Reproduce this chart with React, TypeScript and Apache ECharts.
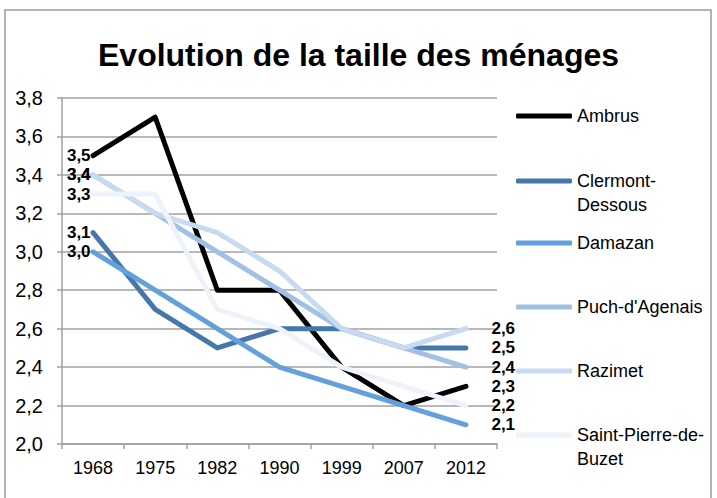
import React, { useEffect, useRef } from 'react';
import * as echarts from 'echarts';

const years = ['1968', '1975', '1982', '1990', '1999', '2007', '2012'];
const seriesNames = ['Ambrus', 'Clermont-Dessous', 'Damazan', "Puch-d'Agenais", 'Razimet', 'Saint-Pierre-de-Buzet'];
const legendLabels = ['Ambrus', '\nClermont-\nDessous', 'Damazan', "Puch-d'Agenais", 'Razimet', '\nSaint-Pierre-de-\nBuzet'];
const ambrus = [3.5, 3.7, 2.8, 2.8, 2.4, 2.2, 2.3];
const clermont = [3.1, 2.7, 2.5, 2.6, 2.6, 2.5, 2.5];
const damazan = [3.0, 2.8, 2.6, 2.4, 2.3, 2.2, 2.1];
const puch = [3.4, 3.2, 3.0, 2.8, 2.6, 2.5, 2.4];
const razimet = [3.4, 3.2, 3.1, 2.9, 2.6, 2.5, 2.6];
const spb = [3.3, 3.3, 2.7, 2.6, 2.4, 2.3, 2.2];
const allValues = [ambrus, clermont, damazan, puch, razimet, spb];
const colors = ['#000000', '#4677ab', '#64a0dc', '#a2c0e6', '#c8daf0', '#eef3fa'];
const yMin = 2.0;
const yMax = 3.8;
const yStep = 0.2;
const titleText = 'Evolution de la taille des ménages';

const FONT = '"Liberation Sans", Arial, Helvetica, sans-serif';
const fmt = (v: number) => Number(v).toFixed(1).replace('.', ',');

const legendTops = [105, 145, 232, 296, 360, 399];

export default function App() {
  const ref = useRef<HTMLDivElement>(null);
  useEffect(() => {
    if (!ref.current) return;
    const chart = echarts.init(ref.current, null, { renderer: 'svg' });
    const last = years.length - 1;
    const series = seriesNames.map((name, si) => ({
      name,
      type: 'line',
      symbol: 'circle',
      symbolSize: 1,
      showSymbol: true,
      z: 2 + si,
      lineStyle: { color: colors[si], width: 5, cap: 'round', join: 'round' },
      itemStyle: { color: colors[si] },
      label: {
        fontFamily: FONT,
        fontSize: 17,
        fontWeight: 'bold',
        color: '#000',
        formatter: (p: any) => fmt(p.value),
      },
      labelLayout: { hideOverlap: false },
      data: allValues[si].map((v, i) => ({
        value: v,
        label:
          i === 0
            ? { show: true, position: 'left', distance: 2 }
            : i === last
            ? { show: true, position: 'right', distance: 25 }
            : { show: false },
      })),
    }));
    const legends = seriesNames.map((name, si) => {
      const multi = legendLabels[si].indexOf('\n') >= 0;
      return {
        data: [name],
        left: 516,
        top: legendTops[si],
        padding: 0,
        icon: 'roundRect',
        itemWidth: 56,
        itemHeight: 5,
        selectedMode: false,
        formatter: () => legendLabels[si],
        textStyle: {
          fontFamily: FONT,
          fontSize: 18,
          color: '#000',
          lineHeight: multi ? 24 : 22,
        },
      };
    });
    chart.setOption({
      animation: false,
      backgroundColor: '#ffffff',
      color: colors,
      title: {
        text: titleText,
        left: 'center',
        top: 39,
        padding: 0,
        textStyle: { fontFamily: FONT, fontSize: 32, fontWeight: 'bold', color: '#000' },
      },
      graphic: [
        {
          type: 'rect',
          shape: { x: 5, y: 10, width: 706, height: 520 },
          style: { fill: 'none', stroke: '#9a9a9a', lineWidth: 1.5 },
          silent: true,
          z: -1,
        },
      ],
      legend: legends,
      grid: { left: 62, right: 220, top: 98, bottom: 54, containLabel: false },
      xAxis: {
        type: 'category',
        data: years,
        boundaryGap: true,
        axisLine: { show: true, lineStyle: { color: '#a0a0a0', width: 1.5 } },
        axisTick: { show: true, length: 5, inside: false, alignWithLabel: false, lineStyle: { color: '#a0a0a0', width: 1.5 } },
        axisLabel: { fontFamily: FONT, fontSize: 18, color: '#000', margin: 15 },
        splitLine: { show: false },
      },
      yAxis: {
        type: 'value',
        min: yMin,
        max: yMax,
        interval: yStep,
        axisLine: { show: true, lineStyle: { color: '#a0a0a0', width: 1.5 } },
        axisTick: { show: true, length: 5, inside: false, lineStyle: { color: '#a0a0a0', width: 1.5 } },
        axisLabel: { fontFamily: FONT, fontSize: 20, color: '#000', margin: 19, formatter: (v: number) => fmt(v) },
        splitLine: { show: true, lineStyle: { color: '#a0a0a0', width: 1.5 } },
      },
      series,
    });
    return () => chart.dispose();
  }, []);
  return (
    <div
      ref={ref}
      style={{ position: 'absolute', left: 0, top: 0, width: 717, height: 498, background: '#fff' }}
    />
  );
}
